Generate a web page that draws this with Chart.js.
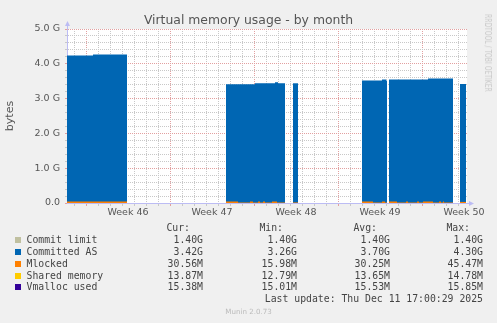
<!DOCTYPE html>
<html>
<head>
<meta charset="utf-8">
<script src="https://cdn.jsdelivr.net/npm/chart.js@4.4.1/dist/chart.umd.min.js"></script>
<style>
html,body{margin:0;padding:0;background:#f0f0f0;}
#wrap{position:relative;width:497px;height:323px;overflow:hidden;font-family:'DejaVu Sans',sans-serif;}
#c{position:absolute;left:0;top:0;}
.t{position:absolute;white-space:pre;}
#title{left:0;width:497px;top:12px;line-height:15px;text-align:center;font-size:12.4px;color:#555;}
.lg{font-family:'DejaVu Sans Mono',monospace;font-size:9.8px;line-height:12px;color:#444;}
.sw{position:absolute;width:6px;height:6px;}
#foot{left:0;width:497px;text-align:center;top:307px;font-size:7.1px;line-height:9px;color:#bbb;}
#wm{left:488px;top:53px;font-size:9px;color:#c8c8c8;transform:translate(-50%,-50%) rotate(90deg) scaleX(0.67);}
</style>
</head>
<body>
<div id="wrap">
<canvas id="c" width="497" height="323"></canvas>
<div class="t" id="title">Virtual memory usage - by month</div>
<div class="t" id="wm">RRDTOOL / TOBI OETIKER</div>
<div class="t" id="foot">Munin 2.0.73</div>
</div>
<script>
// ---- data (time in hours from the start of the 800 h window ending Thu Dec 11 17:00:29 2025)
// each value holds from hours[i] until hours[i+1]; null = no data
const committedHours = [0, 52, 120, 318, 376, 416, 422, 436, 452, 462, 590, 630, 638, 640, 644, 722, 772, 786, 798];
const committedAS    = [4.24, 4.27, null, 3.41, 3.44, 3.47, 3.44, null, 3.44, null, 3.52, 3.55, 3.52, null, 3.55, 3.58, null, 3.42, null];

const mlockedHours = [0, 120, 318, 342, 366, 372, 382, 386, 392, 396, 410, 420, 436, 452, 462, 590, 612, 630, 636, 640, 644, 660, 678, 682, 700, 704, 712, 732, 744, 748, 752, 754, 772, 786, 798];
const mlocked      = [0.042, null, 0.045, 0.016, 0.045, 0.016, 0.045, 0.016, 0.045, 0.016, 0.045, 0.016, null, 0.016, null, 0.045, 0.016, 0.045, 0.016, null, 0.045, 0.016, 0.045, 0.016, 0.045, 0.016, 0.045, 0.016, 0.045, 0.016, 0.045, 0.016, null, 0.031, null];

const segmentHours = [0, 120, 318, 436, 452, 462, 590, 640, 644, 772, 786, 798];
const commitLimit  = [1.40, null, 1.40, null, 1.40, null, 1.40, null, 1.40, null, 1.40, null];
const sharedMemory = [0.0139, null, 0.0137, null, 0.0136, null, 0.0136, null, 0.0137, null, 0.0139, null];
const vmallocUsed  = [0.0155, null, 0.0156, null, 0.0155, null, 0.0155, null, 0.0154, null, 0.0154, null];

const weekLabels      = ['Week 46', 'Week 47', 'Week 48', 'Week 49', 'Week 50'];
const weekLabelHours  = [122, 290, 458, 626, 794];
const weekStartHours  = [38, 206, 374, 542, 710];
const firstDayHour    = 14;
const yTicks = [0, 0.2, 0.4, 0.6, 0.8, 1, 1.2, 1.4, 1.6, 1.8, 2, 2.2, 2.4, 2.6, 2.8, 3, 3.2, 3.4, 3.6, 3.8, 4, 4.2, 4.4, 4.6, 4.8, 5];

const legendNames  = ['Commit limit', 'Committed AS', 'Mlocked', 'Shared memory', 'Vmalloc used'];
const legendColors = ['#C0C0A0', '#0066B3', '#FF8000', '#FFCC00', '#330099'];
const curVals = ['1.40G', '3.42G', '30.56M', '13.87M', '15.38M'];
const minVals = ['1.40G', '3.26G', '15.98M', '12.79M', '15.01M'];
const avgVals = ['1.40G', '3.70G', '30.25M', '13.65M', '15.53M'];
const maxVals = ['1.40G', '4.30G', '45.47M', '14.78M', '15.85M'];
const lastUpdate = 'Last update: Thu Dec 11 17:00:29 2025';

// ---- build step data
function steps(hours, vals) {
  const pts = [];
  for (let i = 0; i < hours.length; i++) {
    if (vals[i] === null) { pts.push({x: hours[i], y: null}); continue; }
    pts.push({x: hours[i], y: vals[i]}, {x: hours[i + 1], y: vals[i]});
  }
  return pts;
}

const dayHours = [];
for (let h = firstDayHour; h < 800; h += 24) dayHours.push(h);
const xTicks = dayHours.concat(weekLabelHours).sort((a, b) => a - b);

const MINOR = '#c8c8c8', MAJOR = '#e2a0a0', AXIS = '#bcbcf4';
const xGridColor = (c) => {
  const v = c.tick ? c.tick.value : null;
  if (weekLabelHours.includes(v)) return 'rgba(0,0,0,0)';
  if (weekStartHours.includes(v)) return MAJOR;
  return MINOR;
};
const yGridColor = (c) => {
  const v = c.tick ? c.tick.value : 0;
  return Math.abs(v - Math.round(v)) < 1e-6 ? MAJOR : MINOR;
};

const areaDs = (label, data, color, order) => ({
  label, data, backgroundColor: color, borderColor: 'rgba(0,0,0,0)', borderWidth: 0,
  fill: 'origin', pointRadius: 0, spanGaps: false, tension: 0, order
});

const plotDeco = {
  id: 'plotDeco',
  beforeDraw(chart) {
    const {ctx, chartArea: a} = chart;
    ctx.save();
    ctx.fillStyle = '#ffffff';
    ctx.fillRect(a.left, a.top, a.right - a.left, a.bottom - a.top);
    ctx.restore();
  },
  afterDraw(chart) {
    const {ctx, chartArea: a} = chart;
    ctx.save();
    ctx.fillStyle = AXIS;
    ctx.strokeStyle = AXIS;
    ctx.lineWidth = 1;
    ctx.beginPath();
    ctx.moveTo(a.left + 0.5, a.top); ctx.lineTo(a.left + 0.5, a.top - 5); ctx.stroke();
    ctx.beginPath();
    ctx.moveTo(a.left - 2, a.top - 3); ctx.lineTo(a.left + 3, a.top - 3); ctx.lineTo(a.left + 0.5, a.top - 8); ctx.closePath(); ctx.fill();
    ctx.beginPath();
    ctx.moveTo(a.right, a.bottom + 0.5); ctx.lineTo(a.right + 3, a.bottom + 0.5); ctx.stroke();
    ctx.beginPath();
    ctx.moveTo(a.right + 2, a.bottom - 2); ctx.lineTo(a.right + 2, a.bottom + 3); ctx.lineTo(a.right + 7, a.bottom + 0.5); ctx.closePath(); ctx.fill();
    ctx.restore();
  }
};

const tickFont = {family: 'DejaVu Sans', size: 9.5};

new Chart(document.getElementById('c'), {
  type: 'line',
  data: {
    datasets: [
      areaDs('Mlocked', steps(mlockedHours, mlocked), '#FF8000', 0),
      areaDs('Committed AS', steps(committedHours, committedAS), '#0066B3', 1),
      Object.assign(areaDs('Commit limit', steps(segmentHours, commitLimit), 'rgba(0,0,0,0)', 2), {fill: false, borderColor: '#C0C0A0', borderWidth: 1}),
      areaDs('Shared memory', steps(segmentHours, sharedMemory), '#FFCC00', 3),
      areaDs('Vmalloc used', steps(segmentHours, vmallocUsed), '#330099', 4)
    ]
  },
  options: {
    responsive: false,
    animation: false,
    events: [],
    layout: {padding: {left: 0, right: 30, top: 29, bottom: 0}},
    plugins: {legend: {display: false}, tooltip: {enabled: false}, title: {display: false}},
    scales: {
      x: {
        type: 'linear', min: 0, max: 800,
        afterBuildTicks(axis) { axis.ticks = xTicks.map(v => ({value: v})); },
        afterFit(s) { s.height = 120; },
        ticks: {
          autoSkip: false, maxRotation: 0, minRotation: 0, padding: 1, color: '#555', font: tickFont,
          callback(v) { const i = weekLabelHours.indexOf(v); return i >= 0 ? weekLabels[i] : ''; }
        },
        grid: {color: xGridColor, tickColor: xGridColor, lineWidth: 1, tickLength: 3},
        border: {color: AXIS, width: 1, dash: [1, 1]}
      },
      y: {
        type: 'linear', min: 0, max: 5,
        afterBuildTicks(axis) { axis.ticks = yTicks.map(v => ({value: v})); },
        afterFit(s) { s.width = 67; },
        ticks: {
          autoSkip: false, padding: 5, color: '#555', font: tickFont,
          callback(v) {
            if (Math.abs(v - Math.round(v)) > 1e-6) return '';
            return v === 0 ? '0.0' : v.toFixed(1) + ' G';
          }
        },
        grid: {color: yGridColor, tickColor: yGridColor, lineWidth: 1, tickLength: 2},
        border: {color: AXIS, width: 1, dash: [1, 1]},
        title: {display: true, text: 'bytes', color: '#555', font: {family: 'DejaVu Sans', size: 11}, padding: {top: 4, bottom: 0}}
      }
    }
  },
  plugins: [plotDeco]
});

// ---- legend (HTML text)
const wrap = document.getElementById('wrap');
function addText(txt, cls, css) {
  const d = document.createElement('div');
  d.className = 't ' + cls;
  d.textContent = txt;
  Object.assign(d.style, css);
  wrap.appendChild(d);
  return d;
}
const headTop = 222.1, rowStep = 11.85;
const valRights = [203, 297, 390, 483];
const headRights = [190, 283, 377, 470];
['Cur:', 'Min:', 'Avg:', 'Max:'].forEach((h, j) => {
  addText(h, 'lg', {top: headTop + 'px', right: (497 - headRights[j]) + 'px', textAlign: 'right'});
});
const cols = [curVals, minVals, avgVals, maxVals];
legendNames.forEach((name, i) => {
  const top = headTop + rowStep * (i + 1);
  const sw = document.createElement('div');
  sw.className = 'sw';
  sw.style.left = '15px';
  sw.style.top = (top + 3) + 'px';
  sw.style.background = legendColors[i];
  wrap.appendChild(sw);
  addText(name, 'lg', {top: top + 'px', left: '26.5px'});
  cols.forEach((col, j) => {
    addText(col[i], 'lg', {top: top + 'px', right: (497 - valRights[j]) + 'px', textAlign: 'right'});
  });
});
addText(lastUpdate, 'lg', {top: (headTop + rowStep * 6) + 'px', right: (497 - 483) + 'px', textAlign: 'right'});
</script>
</body>
</html>
